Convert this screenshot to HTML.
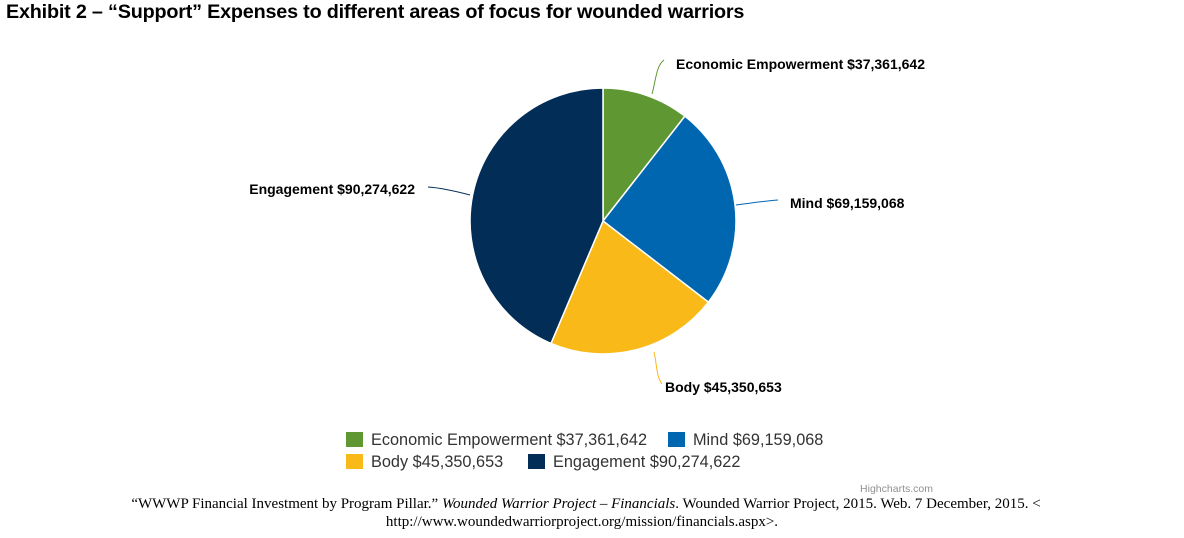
<!DOCTYPE html>
<html><head><style>
body{margin:0;width:1184px;height:538px;background:#fff;overflow:hidden;position:relative;font-family:"Liberation Sans",sans-serif}
.t{position:absolute;left:6px;top:1px;font-weight:bold;font-size:19.8px;color:#000;letter-spacing:-0.2px}
.cap{position:absolute;left:-6px;width:1184px;text-align:center;font-family:"Liberation Serif",serif;font-size:15px;color:#000}
</style></head><body>
<div class="t">Exhibit 2 – “Support” Expenses to different areas of focus for wounded warriors</div>
<svg width="1184" height="538" style="position:absolute;left:0;top:0">
<g stroke="#fff" stroke-width="1.5">
<path d="M603,221 L603,88 A133,133 0 0 1 684.9,116.2 Z" fill="#5f9732"/>
<path d="M603,221 L684.9,116.2 A133,133 0 0 1 708.4,302.1 Z" fill="#0166b0"/>
<path d="M603,221 L708.4,302.1 A133,133 0 0 1 551,343.4 Z" fill="#f9b918"/>
<path d="M603,221 L551,343.4 A133,133 0 0 1 603,88 Z" fill="#022d57"/>
</g>
<g fill="none" stroke-width="1">
<path d="M652,94 C656,80 656,66 664,60" stroke="#5f9732"/>
<path d="M736,205 C752,203 764,201 778,200" stroke="#0166b0"/>
<path d="M654,352 C657,364 656,376 662,384" stroke="#f9b918"/>
<path d="M470,195 C455,191 442,188 428,187" stroke="#022d57"/>
</g>
<g font-weight="bold" font-size="14" fill="#000">
<text x="676" y="69">Economic Empowerment $37,361,642</text>
<text x="790" y="208">Mind $69,159,068</text>
<text x="665" y="392">Body $45,350,653</text>
<text x="415" y="194" text-anchor="end">Engagement $90,274,622</text>
</g>
<rect x="346" y="432" width="17" height="15" fill="#5f9732"/>
<rect x="668" y="432" width="17" height="15" fill="#0166b0"/>
<rect x="346" y="454" width="17" height="15" fill="#f9b918"/>
<rect x="528" y="454" width="17" height="15" fill="#022d57"/>
<g font-size="16.3" fill="#333">
<text x="371" y="445">Economic Empowerment $37,361,642</text>
<text x="693" y="445">Mind $69,159,068</text>
<text x="371" y="467">Body $45,350,653</text>
<text x="553" y="467">Engagement $90,274,622</text>
</g>
<text x="933" y="492" font-size="10.5" fill="#909090" text-anchor="end">Highcharts.com</text>
</svg>
<div class="cap" style="top:496px">“WWWP Financial Investment by Program Pillar.” <i>Wounded Warrior Project – Financials</i>. Wounded Warrior Project, 2015. Web. 7 December, 2015. &lt;</div>
<div class="cap" style="top:514px;left:-10px">http://www.woundedwarriorproject.org/mission/financials.aspx&gt;.</div>
</body></html>
